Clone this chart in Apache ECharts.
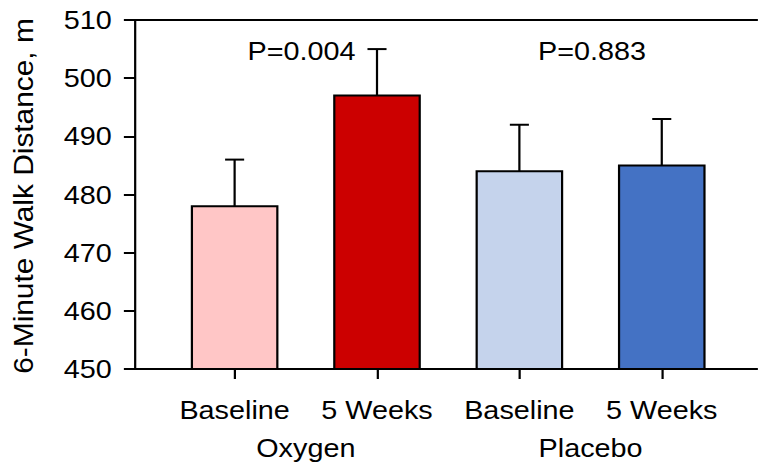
<!DOCTYPE html>
<html>
<head>
<meta charset="utf-8">
<script src="https://cdn.jsdelivr.net/npm/echarts@6/dist/echarts.min.js"></script>
<style>
  html, body { margin: 0; padding: 0; background: #fff; overflow: hidden; width: 758px; height: 473px; }
  #chart { width: 684px; height: 473px; transform: scaleX(1.108); transform-origin: 0 0; }
</style>
</head>
<body>
<div id="chart"></div>
<script>
// ---- data ----
const categories = ['Baseline', '5 Weeks', 'Baseline', '5 Weeks'];
const groups = ['Oxygen', 'Placebo'];
const means = [478, 497, 484, 485];
const sds = [8, 8, 8, 8];
const pValues = ['P=0.004', 'P=0.883'];
const yTicks = [450, 460, 470, 480, 490, 500, 510];
const yTitle = '6-Minute Walk Distance, m';

// ---- presentation ----
const barColors = ['#FFC6C6', '#CC0000', '#C5D3EC', '#4472C4'];
const FONT = '"Liberation Sans", Arial, sans-serif';
const FS = 26;
const black = '#000';
const lw = 2;
const catPos = categories.map((c, i) => i + 1);
const groupPos = [1.5, 3.5];
const pPos = [[1.47, 504.75], [3.51, 504.75]];

const chart = echarts.init(document.getElementById('chart'), null, { renderer: 'svg' });

const option = {
  animation: false,
  backgroundColor: '#fff',
  grid: { left: 121.8, right: 0, top: 20, bottom: 104, containLabel: false },
  xAxis: [
    {
      type: 'value', min: 0.3, max: 4.675, position: 'bottom',
      axisLine: { show: true, onZero: false, lineStyle: { color: black, width: lw } },
      axisTick: { show: true, customValues: catPos, length: 10, inside: false, lineStyle: { color: black, width: lw } },
      axisLabel: { customValues: catPos, formatter: v => categories[Math.round(v) - 1], fontSize: FS, fontFamily: FONT, color: black, margin: 28 },
      splitLine: { show: false }
    },
    {
      type: 'value', min: 0.3, max: 4.675, position: 'bottom',
      axisLine: { show: false }, axisTick: { show: false },
      axisLabel: { customValues: groupPos, formatter: v => groups[Math.round((v - 1.5) / 2)], fontSize: FS, fontFamily: FONT, color: black, margin: 66 },
      splitLine: { show: false }
    },
    {
      type: 'value', min: 0.3, max: 4.675, position: 'top',
      axisLine: { show: true, onZero: false, lineStyle: { color: black, width: lw } },
      axisTick: { show: false }, axisLabel: { show: false }, splitLine: { show: false }
    }
  ],
  yAxis: {
    type: 'value', min: yTicks[0], max: yTicks[yTicks.length - 1], interval: yTicks[1] - yTicks[0],
    axisLine: { show: true, onZero: false, lineStyle: { color: black, width: lw } },
    axisTick: { show: true, length: 10, inside: false, lineStyle: { color: black, width: lw } },
    axisLabel: { fontSize: FS, fontFamily: FONT, color: black, margin: 21 },
    splitLine: { show: false }
  },
  graphic: [
    {
      type: 'text', x: 20.8, y: 196, rotation: Math.PI / 2, scaleX: 1.149, scaleY: 0.97,
      style: { text: yTitle, fontSize: FS, fontFamily: FONT, fill: black, align: 'center', verticalAlign: 'middle' }
    }
  ],
  series: [
    {
      type: 'custom',
      xAxisIndex: 0,
      data: means.map((m, i) => [catPos[i], m, sds[i]]),
      renderItem: function (params, api) {
        const x = api.value(0), y = api.value(1), e = api.value(2);
        const base = api.coord([x, yTicks[0]]);
        const top = api.coord([x, y]);
        const et = api.coord([x, y + e]);
        const w = api.size([0.6, 0])[0];
        const cap = 8.6;
        return {
          type: 'group',
          children: [
            { type: 'line', shape: { x1: top[0], y1: top[1], x2: et[0], y2: et[1] }, style: { stroke: black, lineWidth: lw } },
            { type: 'line', shape: { x1: et[0] - cap, y1: et[1], x2: et[0] + cap, y2: et[1] }, style: { stroke: black, lineWidth: lw } },
            { type: 'rect', shape: { x: base[0] - w / 2, y: top[1], width: w, height: base[1] - top[1] },
              style: { fill: barColors[params.dataIndex], stroke: black, lineWidth: lw } }
          ]
        };
      }
    },
    {
      type: 'custom',
      xAxisIndex: 0,
      data: pValues.map((p, i) => [pPos[i][0], pPos[i][1], i]),
      renderItem: function (params, api) {
        const c = api.coord([api.value(0), api.value(1)]);
        return {
          type: 'text', x: c[0], y: c[1],
          style: { text: pValues[params.dataIndex], fontSize: FS, fontFamily: FONT, fill: black, align: 'center', verticalAlign: 'middle' }
        };
      }
    }
  ]
};
chart.setOption(option);
</script>
</body>
</html>
